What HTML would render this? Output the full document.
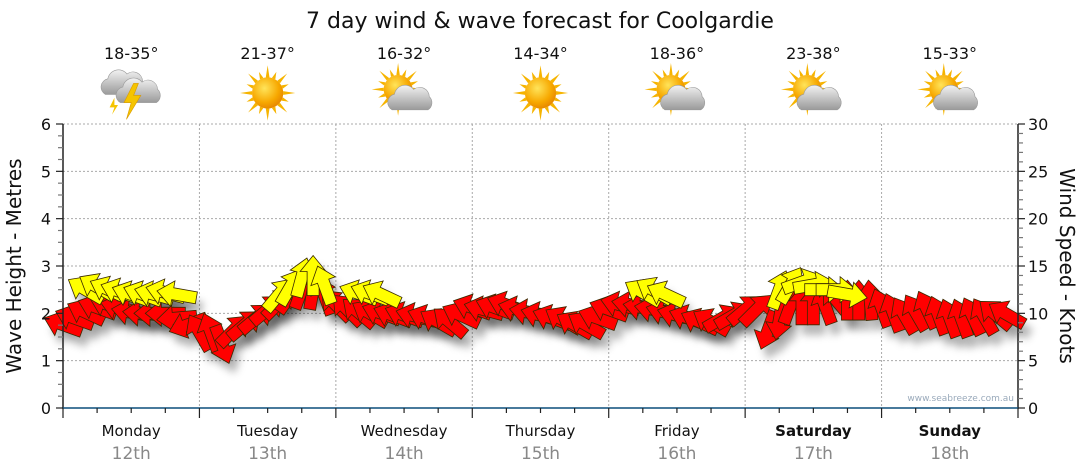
<!DOCTYPE html>
<html><head><meta charset="utf-8"><style>
body{margin:0;background:#fff;}
svg{display:block;font-family:"DejaVu Sans","Liberation Sans",sans-serif;}
</style></head><body>
<svg id="c" width="1080" height="475" viewBox="0 0 1080 475">
<defs>
<filter id="sh" x="-50%" y="-50%" width="200%" height="200%"><feGaussianBlur stdDeviation="4"/></filter>
<radialGradient id="sun" cx="40%" cy="35%" r="65%"><stop offset="0" stop-color="#ffe45a"/><stop offset="0.7" stop-color="#f7a800"/><stop offset="1" stop-color="#e88a00"/></radialGradient>
<linearGradient id="cl" x1="0" y1="0" x2="0" y2="1"><stop offset="0" stop-color="#f2f2f2"/><stop offset="1" stop-color="#9a9a9a"/></linearGradient>
</defs>
<text x="540" y="28" font-size="22" text-anchor="middle" fill="#111">7 day wind &amp; wave forecast for Coolgardie</text>
<g id="grid"></g><g id="shadows"></g><g id="arrows"></g><g id="axes"></g><g id="wx"></g>
<text transform="translate(21,266) rotate(-90)" font-size="20" text-anchor="middle" fill="#111">Wave Height - Metres</text>
<text transform="translate(1060,266) rotate(90)" font-size="20" text-anchor="middle" fill="#111">Wind Speed - Knots</text>
<text x="1014" y="401" font-size="9" text-anchor="end" fill="#9aaabb">www.seabreeze.com.au</text>
</svg>
<script>
const days=["Monday","Tuesday","Wednesday","Thursday","Friday","Saturday","Sunday"];
const dates=["12th","13th","14th","15th","16th","17th","18th"];
const temps=["18-35°","21-37°","16-32°","14-34°","18-36°","23-38°","15-33°"];
const icons=["storm","sun","partly","sun","partly","partly","partly"];
const leftTicks=[0,1,2,3,4,5,6];
const rightTicks=[0,5,10,15,20,25,30];
const redHours=[0,2,4,6,8,10,12,14,16,18,20,22,24,26,28,30,32,34,36,38,40,42,44,46,48,50,52,54,56,58,60,62,64,66,68,70,72,74,76,78,80,82,84,86,88,90,92,94,96,98,100,102,104,106,108,110,112,114,116,118,120,122,124,126,128,130,132,134,136,138,140,142,144,146,148,150,152,154,156,158,160,162,164,166];
const redKnots=[8.8,9.5,10.1,10.6,10.9,10.6,10.1,10.0,10.0,10.0,9.5,8.8,8.0,8.0,6.7,8.2,8.8,9.5,10.4,11.1,11.9,12.5,12.5,11.9,10.9,10.4,10.1,10.0,10.0,9.8,9.8,9.7,9.5,9.1,9.1,9.8,10.6,10.4,10.6,10.9,10.4,10.1,9.8,9.5,9.3,8.8,8.8,9.5,10.4,10.9,10.9,10.6,10.4,10.1,9.8,9.5,9.1,9.1,9.5,9.8,10.4,10.4,8.2,9.3,10.9,10.9,10.9,10.9,11.4,11.4,11.4,11.4,10.6,10.1,9.8,10.1,10.4,9.8,9.5,9.5,9.7,9.7,9.9,9.9];
const redDirs=[290,290,295,290,290,285,280,275,270,270,265,250,330,340,160,45,50,50,50,45,35,20,10,340,315,315,310,300,290,290,290,285,290,300,310,295,290,285,290,290,285,280,285,290,300,300,300,290,290,285,280,280,280,285,285,290,295,300,60,60,50,45,200,190,20,0,0,340,320,0,0,355,340,340,330,330,335,340,340,340,335,330,310,300];
const yelHours=[4,6,8,10,12,14,16,18,20,38,40,42,44,46,52,54,56,102,104,106,126,128,130,132,134,136,138];
const yelKnots=[12.5,12.8,12.5,12.3,12.0,12.0,12.0,12.2,12.0,12.0,12.8,13.8,14.0,13.0,12.1,12.1,12.0,12.2,12.4,12.0,12.5,13.0,13.3,13.0,12.5,12.5,12.0];
const yelDirs=[300,300,295,290,290,290,285,285,280,40,30,15,0,340,290,290,295,300,300,295,20,30,70,80,90,90,100];

const NS="http://www.w3.org/2000/svg";
const X0=63,X1=1018,Y0=408,Y1=124;
const xH=h=>X0+h*(X1-X0)/168;
const yM=m=>Y0-m*(Y0-Y1)/6;
const yK=k=>Y0-k*(Y0-Y1)/30;
function mk(p,tag,a){const e=document.createElementNS(NS,tag);for(const k in a)e.setAttribute(k,a[k]);p.appendChild(e);return e;}
const G=id=>document.getElementById(id);
const grid=G("grid"),axes=G("axes"),arrows=G("arrows"),shadows=G("shadows"),wx=G("wx");
leftTicks.forEach(m=>{if(m>0){const l=mk(grid,"line",{x1:X0,x2:X1,y1:yM(m),y2:yM(m),stroke:"#aaa","stroke-dasharray":"2,2"});

}});
for(let d=1;d<7;d++){const l=mk(grid,"line",{x1:xH(d*24),x2:xH(d*24),y1:Y1,y2:Y0,stroke:"#aaa","stroke-dasharray":"2,2"});

}
mk(axes,"line",{x1:X0,x2:X0,y1:Y1,y2:Y0,stroke:"#222","stroke-width":1.5});
mk(axes,"line",{x1:X1,x2:X1,y1:Y1,y2:Y0,stroke:"#222","stroke-width":1.5});
mk(axes,"line",{x1:X0-1,x2:X1+1,y1:Y0,y2:Y0,stroke:"#0b4f7c","stroke-width":1.5});
for(let i=0;i<=24;i++){const m=i/4;mk(axes,"line",{x1:X0-(i%4?5:7),x2:X0,y1:yM(m),y2:yM(m),stroke:i%4?"#777":"#222","stroke-width":1.2});}
leftTicks.forEach(m=>{const t=mk(axes,"text",{x:51,y:yM(m)+6,"font-size":16,"text-anchor":"end",fill:"#111"});t.textContent=m;

});
for(let k=0;k<=30;k++){mk(axes,"line",{x1:X1,x2:X1+(k%5?5:7),y1:yK(k),y2:yK(k),stroke:k%5?"#777":"#222","stroke-width":1.2});}
rightTicks.forEach(k=>{const t=mk(axes,"text",{x:1028,y:yK(k)+6,"font-size":16,fill:"#111"});t.textContent=k;

});
for(let q=0;q<=28;q++){const x=xH(q*6);mk(axes,"line",{x1:x,x2:x,y1:Y0,y2:Y0+(q%4?5:10),stroke:"#222","stroke-width":1.2});}
days.forEach((d,i)=>{const cx=xH(i*24+12);
const t=mk(axes,"text",{x:cx,y:436,"font-size":15,"text-anchor":"middle",fill:"#111","font-weight":i>=5?"bold":"normal"});t.textContent=d;


const t2=mk(axes,"text",{x:cx,y:459,"font-size":17,"text-anchor":"middle",fill:"#888"});t2.textContent=dates[i];


const t3=mk(wx,"text",{x:cx,y:59,"font-size":16,"text-anchor":"middle",fill:"#111"});t3.textContent=temps[i];


const g=mk(wx,"g",{transform:`translate(${cx},93) scale(1.2)`});


drawIcon(g,icons[i]);});
function sun(g,x,y,r){for(let a=0;a<360;a+=22.5){const L=(a/22.5)%2?r+6:r+10;const rad=a*Math.PI/180;
mk(g,"polygon",{points:`${x+Math.cos(rad)*L},${y+Math.sin(rad)*L} ${x+Math.cos(rad+0.12)*r},${y+Math.sin(rad+0.12)*r} ${x+Math.cos(rad-0.12)*r},${y+Math.sin(rad-0.12)*r}`,fill:"#f6b400"});}
mk(g,"circle",{cx:x,cy:y,r:r,fill:"url(#sun)"});}
function cloud(g,x,y,s){mk(g,"path",{d:`M${x-15*s},${y+8*s} a7 7 0 0 1 2,-13 a9 9 0 0 1 16,-4 a8 8 0 0 1 13,6 a7 7 0 0 1 -1,11 z`,fill:"url(#cl)",stroke:"#999","stroke-width":0.5});}
function drawIcon(g,t){
if(t==="sun")sun(g,0,0,13);
else if(t==="partly"){sun(g,-5,-3,12);cloud(g,5,6,1);}
else{cloud(g,-8,-6,0.9);cloud(g,6,0,1);
mk(g,"polygon",{points:"2,-8 -6,8 0,8 -4,22 8,2 2,2 6,-8",fill:"#f5c400",stroke:"#d99a00","stroke-width":0.5});
mk(g,"polygon",{points:"-14,4 -18,12 -14,12 -16,18 -11,10 -14,10",fill:"#f5c400"});}}
const shape="0,-20 13,-4 6,-4 6,20 -6,20 -6,-4 -13,-4";
function arrow(h,k,dir,col){const x=xH(h),y=yK(k);
const s=mk(shadows,"polygon",{points:shape,transform:`translate(${x+6},${y+10}) rotate(${dir})`,fill:"#000","fill-opacity":0.28,filter:"url(#sh)"});


const p=mk(arrows,"polygon",{points:shape,transform:`translate(${x},${y}) rotate(${dir})`,fill:col,stroke:"#3a2a00","stroke-width":0.8});

}
redHours.forEach((h,i)=>arrow(h,redKnots[i],redDirs[i],"#ff0000"));
yelHours.forEach((h,i)=>arrow(h,yelKnots[i],yelDirs[i],"#ffff00"));
</script>
</body></html>
